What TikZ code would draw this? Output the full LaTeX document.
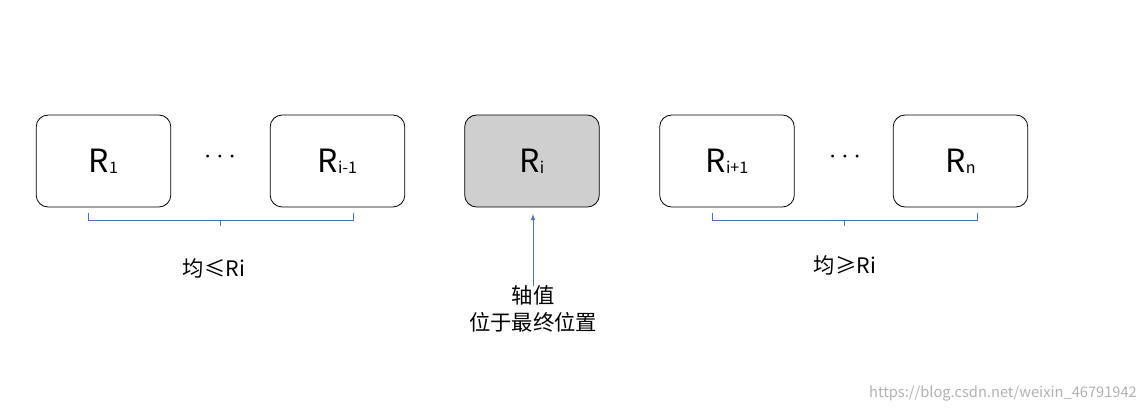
\documentclass[tikz,border=0pt]{standalone}
\usepackage{fontspec}
\setmainfont{Noto Sans CJK SC}
\definecolor{bl}{HTML}{4472C4}
\newcommand{\sbx}[1]{\raisebox{-1pt}{\fontsize{12}{13}\selectfont #1}}
\begin{document}
\begin{tikzpicture}[x=0.75pt,y=-0.75pt,
  box/.style={draw=black,rounded corners=9pt,minimum width=101pt,minimum height=69pt,line width=0.6pt,font=\fontsize{24}{26}\selectfont},
  brace/.style={draw=bl,line width=0.6pt},
  lab/.style={font=\fontsize{16}{20}\selectfont}]
\useasboundingbox (0,0) rectangle (1147,412);
\node[box] (r1) at (103.5,161) {R\sbx{1}};
\node[box] (ri1) at (337.5,161) {R\sbx{i-1}};
\node[box,fill=black!19] (ri) at (532,161) {R\sbx{i}};
\node[box] (rip) at (727,161) {R\sbx{i+1}};
\node[box] (rn) at (960.5,161) {R\sbx{n}};
\node[font=\fontsize{22}{24}\selectfont] (d1) at (220,157) {$\cdots$};
\node[font=\fontsize{22}{24}\selectfont] (d2) at (845,157) {$\cdots$};
\draw[brace] (88,213) -- (88,220) -- (353,220) -- (353,213) (220.5,220) -- (220.5,226);
\draw[brace] (712,213) -- (712,220) -- (977,220) -- (977,213) (844.5,220) -- (844.5,226);
\node[lab] (l1) at (214,268) {均≤Ri};
\node[lab] (l2) at (845,265) {均≥Ri};
\node[lab,align=center] (ax) at (533,309) {轴值\\位于最终位置};
\coordinate (a0) at (533,286);
\draw[bl,line width=0.6pt,-latex] (a0) -- (533,214);
\node[font=\fontsize{11}{12}\selectfont,text=black!30] (wm) at (1003,393) {https://blog.csdn.net/weixin\_46791942};
\end{tikzpicture}
\end{document}
